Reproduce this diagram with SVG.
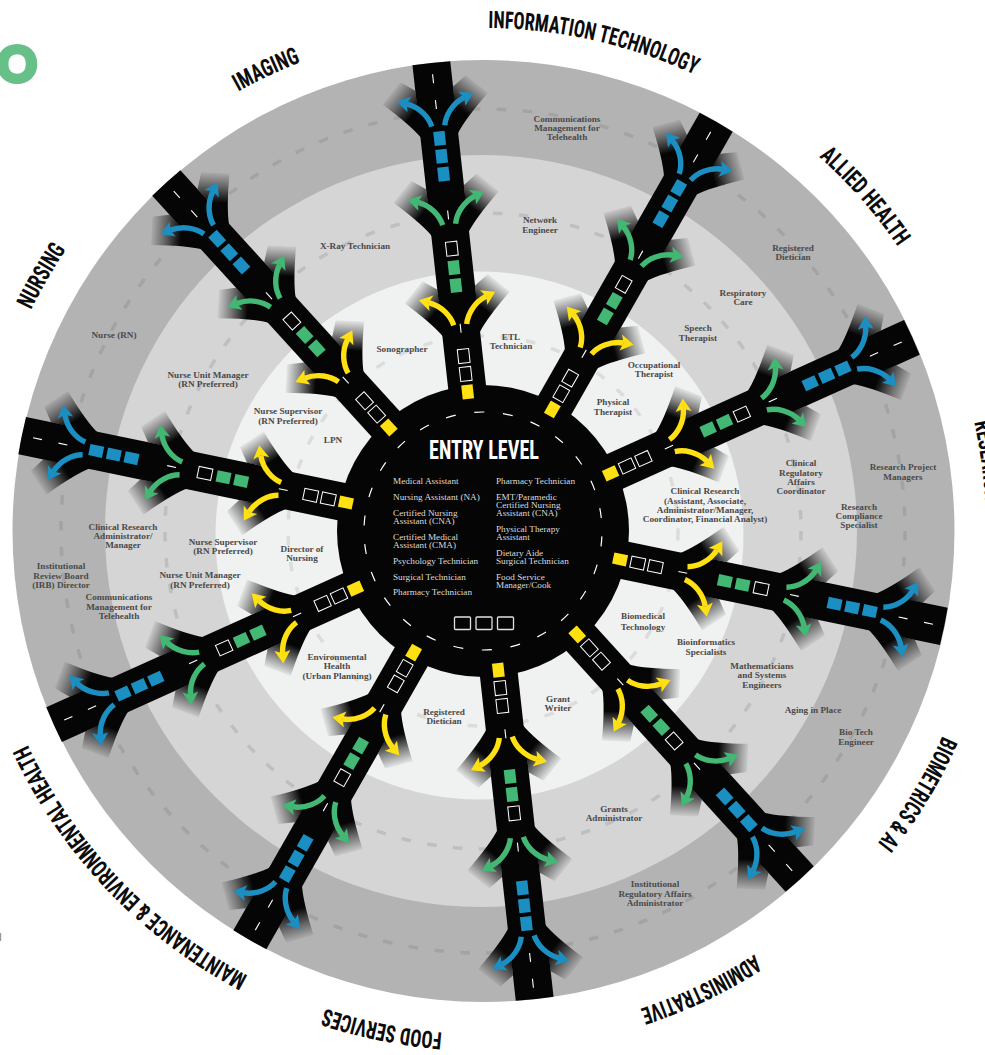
<svg xmlns="http://www.w3.org/2000/svg" width="985" height="1055" viewBox="0 0 985 1055">
<style>
.lbl{font-family:"Liberation Serif","Times New Roman",serif;font-weight:700;font-size:9.2px;fill:#4a4a4a;text-anchor:middle}
.ent{font-family:"Liberation Serif","Times New Roman",serif;font-size:9.2px;fill:#dcdcdc}
.ttl{font-family:"Liberation Sans Narrow","Roboto Condensed","Liberation Sans",sans-serif;font-weight:700;font-size:24px;fill:#0c0c0c}
.gd{fill:none;stroke-width:3.5;stroke-dasharray:9.5 16.5}
.blk{fill:#050505}
.cd{stroke:#fff;stroke-width:1.1;fill:none}
.tw{fill:none;stroke:#fff;stroke-width:1}
.y{fill:#ffe012}.g{fill:#43b874}.b{fill:#1c8fc2}
.sy{stroke:#ffe012}.sg{stroke:#43b874}.sb{stroke:#1c8fc2}
.sh{fill:none;stroke-width:5.4}
</style>
<defs>
<linearGradient id="fade" gradientUnits="userSpaceOnUse" x1="27" y1="22" x2="48" y2="43">
<stop offset="0" stop-color="#050505"/><stop offset=".55" stop-color="#050505" stop-opacity=".45"/><stop offset="1" stop-color="#050505" stop-opacity=".05"/>
</linearGradient>
<path id="stub" fill="url(#fade)" d="M0,18 Q14,27 38,53 L58,33 L48,19 Z"/>
<g id="stubs"><use href="#stub"/><use href="#stub" transform="scale(1,-1)"/></g>
<g id="aY"><path class="sh sy" d="M10.5,6.5C20,8.5 31,16 36,29"/><path class="y" d="M39.5,38.5L42.5,23.5L36,29L27.5,29.1Z"/></g>
<g id="aG"><path class="sh sg" d="M10.5,6.5C20,8.5 31,16 36,29"/><path class="g" d="M39.5,38.5L42.5,23.5L36,29L27.5,29.1Z"/></g>
<g id="aB"><path class="sh sb" d="M10.5,6.5C20,8.5 31,16 36,29"/><path class="b" d="M39.5,38.5L42.5,23.5L36,29L27.5,29.1Z"/></g>
<path id="tile" d="M-7,-5.7H7V5.7H-7Z"/>
<path id="dash" d="M-4.5,0H4.5"/>
<g id="road">
<use href="#stubs" transform="translate(197 0)"/>
<use href="#stubs" transform="translate(298 0)"/>
<use href="#stubs" transform="translate(397 0)"/>
<path class="blk" d="M126,-19L470.6,-19A471,471 0 0 1 470.6,19L126,19Z"/>
<use href="#aY" transform="translate(197 0)"/><use href="#aY" transform="translate(197 0) scale(1,-1)"/>
<use href="#aG" transform="translate(298 0)"/><use href="#aG" transform="translate(298 0) scale(1,-1)"/>
<use href="#aB" transform="translate(397 0)"/><use href="#aB" transform="translate(397 0) scale(1,-1)"/>
<use href="#tile" class="y" x="140"/>
<use href="#tile" class="tw" x="158"/>
<use href="#tile" class="tw" x="176"/>
<use href="#tile" class="g" x="247"/>
<use href="#tile" class="g" x="265"/>
<use href="#tile" class="tw" x="284"/>
<use href="#tile" class="b" x="359"/>
<use href="#tile" class="b" x="377"/>
<use href="#tile" class="b" x="395"/>
<use href="#dash" class="cd" x="204"/>
<use href="#dash" class="cd" x="318"/>
<use href="#dash" class="cd" x="429"/>
<use href="#dash" class="cd" x="455"/>
</g>
<path id="titlearc" d="M483,28A503,503 0 1 1 482.99,28"/>
</defs>
<rect width="985" height="1055" fill="#fff"/>
<g id="rings">
<circle cx="483.5" cy="531" r="471" fill="#b3b3b3"/>
<circle cx="481" cy="531" r="376" fill="#d5d5d5"/>
<circle cx="479.5" cy="535.5" r="264" fill="#f0f1f1"/>
<circle class="gd" cx="483" cy="531" r="422" stroke="#a3a3a3"/>
<circle class="gd" cx="483" cy="531" r="318" stroke="#bfbfbf"/>
<circle class="gd" cx="483" cy="531" r="195" stroke="#dcdcdc"/>
</g>
<circle id="hub" class="blk" cx="483" cy="531" r="146"/>
<g id="connectors">
<g id="road-information-technology" transform="translate(483 531) rotate(263.7)"><use href="#road"/></g>
<g id="road-allied-health" transform="translate(483 531) rotate(299.7)"><use href="#road"/></g>
<g id="road-research" transform="translate(483 531) rotate(335.7)"><use href="#road"/></g>
<g id="road-biometrics" transform="translate(483 531) rotate(11.7)"><use href="#road"/></g>
<g id="road-administrative" transform="translate(483 531) rotate(47.7)"><use href="#road"/></g>
<g id="road-food-services" transform="translate(483 531) rotate(83.7)"><use href="#road"/></g>
<g id="road-maintenance" transform="translate(483 531) rotate(119.7)"><use href="#road"/></g>
<g id="road-nursing-low" transform="translate(483 531) rotate(155.7)"><use href="#road"/></g>
<g id="road-nursing" transform="translate(483 531) rotate(191.7)"><use href="#road"/></g>
<g id="road-imaging" transform="translate(483 531) rotate(227.7)"><use href="#road"/></g>
</g>
<g id="entry-level">
<circle cx="483" cy="531" r="119" fill="none" stroke="#fff" stroke-width="1.2" stroke-dasharray="10 18.76" transform="rotate(2.6 483 531)"/>
<text x="429" y="459" textLength="110" lengthAdjust="spacingAndGlyphs" style="font-family:'Liberation Sans Narrow','Roboto Condensed','Liberation Sans',sans-serif;font-weight:700;font-size:25px;fill:#fff">ENTRY LEVEL</text>
<text class="ent"><tspan x="393" y="484">Medical Assistant</tspan><tspan x="393" y="500">Nursing Assistant (NA)</tspan><tspan x="393" y="516">Certified Nursing</tspan><tspan x="393" y="524">Assistant (CNA)</tspan><tspan x="393" y="540">Certified Medical</tspan><tspan x="393" y="548">Assistant (CMA)</tspan><tspan x="393" y="564">Psychology Technician</tspan><tspan x="393" y="580">Surgical Technician</tspan><tspan x="393" y="595">Pharmacy Technician</tspan></text>
<text class="ent"><tspan x="496" y="484">Pharmacy Technician</tspan><tspan x="496" y="500">EMT/Paramedic</tspan><tspan x="496" y="508">Certified Nursing</tspan><tspan x="496" y="516">Assistant (CNA)</tspan><tspan x="496" y="532">Physical Therapy</tspan><tspan x="496" y="540">Assistant</tspan><tspan x="496" y="556">Dietary Aide</tspan><tspan x="496" y="564">Surgical Technician</tspan><tspan x="496" y="580">Food Service</tspan><tspan x="496" y="588">Manager/Cook</tspan></text>
<g fill="none" stroke="#e2e2e2" stroke-width="1.3"><rect x="454.5" y="617" width="16" height="12.5" rx="1"/><rect x="476" y="617" width="16" height="12.5" rx="1"/><rect x="497.5" y="617" width="16" height="12.5" rx="1"/></g>
</g>
<g id="titles">
<g id="title-it"><text class="ttl"><textPath href="#titlearc" startOffset="5.3" textLength="213" lengthAdjust="spacingAndGlyphs">INFORMATION TECHNOLOGY</textPath></text></g>
<g id="title-allied"><text class="ttl"><textPath href="#titlearc" startOffset="367.9" textLength="120" lengthAdjust="spacingAndGlyphs">ALLIED HEALTH</textPath></text></g>
<g id="title-research"><text class="ttl"><textPath href="#titlearc" startOffset="680.4" textLength="80" lengthAdjust="spacingAndGlyphs">RESEARCH</textPath></text></g>
<g id="title-biometrics"><text class="ttl"><textPath href="#titlearc" startOffset="1000.8" textLength="126" lengthAdjust="spacingAndGlyphs">BIOMETRICS &amp; AI</textPath></text></g>
<g id="title-admin"><text class="ttl"><textPath href="#titlearc" startOffset="1293.2" textLength="127" lengthAdjust="spacingAndGlyphs">ADMINISTRATIVE</textPath></text></g>
<g id="title-food"><text class="ttl"><textPath href="#titlearc" startOffset="1620.6" textLength="120" lengthAdjust="spacingAndGlyphs">FOOD SERVICES</textPath></text></g>
<g id="title-maintenance"><text class="ttl"><textPath href="#titlearc" startOffset="1824.3" textLength="325" lengthAdjust="spacingAndGlyphs">MAINTENANCE &amp; ENVIRONMENTAL HEALTH</textPath></text></g>
<g id="title-nursing"><text class="ttl"><textPath href="#titlearc" startOffset="2598.6" textLength="70" lengthAdjust="spacingAndGlyphs">NURSING</textPath></text></g>
<g id="title-imaging"><text class="ttl"><textPath href="#titlearc" startOffset="2904.3" textLength="69" lengthAdjust="spacingAndGlyphs">IMAGING</textPath></text></g>
</g>
<g id="labels">
<g id="n1"><text class="lbl"><tspan x="567" y="121.5">Communications</tspan><tspan x="567" y="130.5">Management for</tspan><tspan x="567" y="139.5">Telehealth</tspan></text></g>
<g id="n2"><text class="lbl"><tspan x="540" y="223">Network</tspan><tspan x="540" y="233">Engineer</tspan></text></g>
<g id="n3"><text class="lbl"><tspan x="355" y="249">X-Ray Technician</tspan></text></g>
<g id="n4"><text class="lbl"><tspan x="402" y="352">Sonographer</tspan></text></g>
<g id="n5"><text class="lbl"><tspan x="511" y="340">ETL</tspan><tspan x="511" y="349">Technician</tspan></text></g>
<g id="n6"><text class="lbl"><tspan x="793" y="251">Registered</tspan><tspan x="793" y="260">Dietician</tspan></text></g>
<g id="n7"><text class="lbl"><tspan x="743" y="296">Respiratory</tspan><tspan x="743" y="305">Care</tspan></text></g>
<g id="n8"><text class="lbl"><tspan x="698" y="331">Speech</tspan><tspan x="698" y="341">Therapist</tspan></text></g>
<g id="n9"><text class="lbl"><tspan x="654" y="368">Occupational</tspan><tspan x="654" y="377">Therapist</tspan></text></g>
<g id="n10"><text class="lbl"><tspan x="613" y="405">Physical</tspan><tspan x="613" y="415">Therapist</tspan></text></g>
<g id="n11"><text class="lbl"><tspan x="903" y="470">Research Project</tspan><tspan x="903" y="480">Managers</tspan></text></g>
<g id="n12"><text class="lbl"><tspan x="801" y="466">Clinical</tspan><tspan x="801" y="476">Regulatory</tspan><tspan x="801" y="485">Affairs</tspan><tspan x="801" y="494">Coordinator</tspan></text></g>
<g id="n13"><text class="lbl"><tspan x="859" y="510">Research</tspan><tspan x="859" y="519">Compliance</tspan><tspan x="859" y="528">Specialist</tspan></text></g>
<g id="n14"><text class="lbl"><tspan x="705" y="494">Clinical Research</tspan><tspan x="705" y="504">(Assistant, Associate,</tspan><tspan x="705" y="513">Administrator/Manager,</tspan><tspan x="705" y="522">Coordinator, Financial Analyst)</tspan></text></g>
<g id="n15"><text class="lbl"><tspan x="643" y="619">Biomedical</tspan><tspan x="643" y="630">Technology</tspan></text></g>
<g id="n16"><text class="lbl"><tspan x="706" y="645">Bioinformatics</tspan><tspan x="706" y="655">Specialists</tspan></text></g>
<g id="n17"><text class="lbl"><tspan x="762" y="669">Mathematicians</tspan><tspan x="762" y="678">and Systems</tspan><tspan x="762" y="688">Engineers</tspan></text></g>
<g id="n18"><text class="lbl"><tspan x="813" y="713">Aging in Place</tspan></text></g>
<g id="n19"><text class="lbl"><tspan x="856" y="735">Bio Tech</tspan><tspan x="856" y="745">Engineer</tspan></text></g>
<g id="n20"><text class="lbl"><tspan x="614" y="812">Grants</tspan><tspan x="614" y="821">Administrator</tspan></text></g>
<g id="n21"><text class="lbl"><tspan x="655" y="887">Institutional</tspan><tspan x="655" y="897">Regulatory Affairs</tspan><tspan x="655" y="906">Administrator</tspan></text></g>
<g id="n22"><text class="lbl"><tspan x="558" y="702">Grant</tspan><tspan x="558" y="711">Writer</tspan></text></g>
<g id="n23"><text class="lbl"><tspan x="444" y="715">Registered</tspan><tspan x="444" y="724">Dietician</tspan></text></g>
<g id="n24"><text class="lbl"><tspan x="337" y="660">Environmental</tspan><tspan x="337" y="669">Health</tspan><tspan x="337" y="679">(Urban Planning)</tspan></text></g>
<g id="n25"><text class="lbl"><tspan x="302" y="552">Director of</tspan><tspan x="302" y="561">Nursing</tspan></text></g>
<g id="n26"><text class="lbl"><tspan x="223" y="545">Nurse Supervisor</tspan><tspan x="223" y="554">(RN Preferred)</tspan></text></g>
<g id="n27"><text class="lbl"><tspan x="200" y="578">Nurse Unit Manager</tspan><tspan x="200" y="588">(RN Preferred)</tspan></text></g>
<g id="n28"><text class="lbl"><tspan x="123" y="530">Clinical Research</tspan><tspan x="123" y="539">Administrator/</tspan><tspan x="123" y="548">Manager</tspan></text></g>
<g id="n29"><text class="lbl"><tspan x="61" y="569">Institutional</tspan><tspan x="61" y="579">Review Board</tspan><tspan x="61" y="588">(IRB) Director</tspan></text></g>
<g id="n30"><text class="lbl"><tspan x="119" y="600">Communications</tspan><tspan x="119" y="610">Management for</tspan><tspan x="119" y="619">Telehealth</tspan></text></g>
<g id="n31"><text class="lbl"><tspan x="288" y="414">Nurse Supervisor</tspan><tspan x="288" y="424">(RN Preferred)</tspan></text></g>
<g id="n32"><text class="lbl"><tspan x="333" y="443">LPN</tspan></text></g>
<g id="n33"><text class="lbl"><tspan x="208" y="378">Nurse Unit Manager</tspan><tspan x="208" y="387">(RN Preferred)</tspan></text></g>
<g id="n34"><text class="lbl"><tspan x="114" y="338">Nurse (RN)</tspan></text></g>
</g>
<text x="17" y="82" text-anchor="middle" style="font-family:Lato,'Liberation Sans',sans-serif;font-weight:900;font-size:49px;fill:#66c088;stroke:#66c088;stroke-width:4">O</text>
<rect x="0" y="933" width="1.2" height="8" fill="#999"/>
</svg>
